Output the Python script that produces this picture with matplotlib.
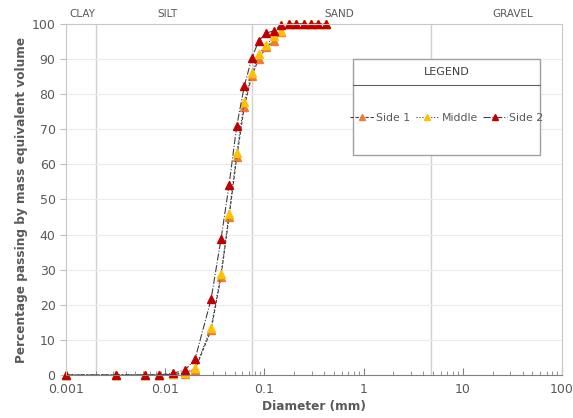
import matplotlib.pyplot as plt
from matplotlib.patches import Rectangle
from matplotlib.lines import Line2D
from matplotlib.ticker import FuncFormatter, LogLocator, NullFormatter

# particle size bins (mm)
diam = [0.001, 0.0032, 0.0062, 0.0087, 0.0120, 0.0158, 0.0200, 0.0290, 0.0365,
        0.0440, 0.0526, 0.0627, 0.0745, 0.0876, 0.1045, 0.125, 0.146, 0.177,
        0.209, 0.249, 0.293, 0.348, 0.416]

side1 = [0, 0, 0, 0, 0.2, 0.4, 1.5, 12.8, 28.0, 45.0, 62.0, 76.4, 85.2, 90.0,
         93.5, 95.2, 97.7, 100, 100, 100, 100, 100, 100]
middle = [0, 0, 0, 0, 0.3, 0.5, 1.9, 13.5, 28.7, 45.9, 63.3, 77.9, 86.0, 91.5,
          93.9, 96.6, 98.1, 100, 100, 100, 100, 100, 100]
side2 = [0, 0, 0, 0, 0.5, 1.4, 4.5, 21.6, 38.7, 54.1, 70.9, 82.3, 90.2, 95.2,
         97.4, 98.1, 99.8, 100, 100, 100, 100, 100, 100]

# class boundaries (mm)
bounds = [0.002, 0.075, 4.75]
classes = ['CLAY', 'SILT', 'SAND', 'GRAVEL']
class_x = [0.00108, 0.0105, 0.57, 32]

grey = '#595959'

fig = plt.figure(figsize=(5.73, 4.18), dpi=100)
ax = fig.add_axes([0.1152, 0.1029, 0.8656, 0.8397])

ax.plot(diam, side1, color='#404040', lw=0.8, ls=(0, (3, 1.5)), clip_on=False,
        marker='^', ms=5.5, mfc='#ED7D31', mec='#ED7D31', label='Side 1')
ax.plot(diam, middle, color='#404040', lw=0.8, ls=':', clip_on=False,
        marker='^', ms=5.5, mfc='#FFC000', mec='#FFC000', label='Middle')
ax.plot(diam, side2, color='#404040', lw=0.8, ls='-.', clip_on=False,
        marker='^', ms=5.5, mfc='#C00000', mec='#C00000', label='Side 2')

ax.set_xscale('log')
ax.set_xlim(0.001, 100)
ax.set_ylim(0, 100)
ax.set_yticks(range(0, 101, 10))
ax.yaxis.grid(True, color='#ececec', lw=0.8)
ax.set_axisbelow(True)

for b in bounds:
    ax.axvline(b, color='#d0d0d0', lw=1, zorder=0)

ax.xaxis.set_major_formatter(FuncFormatter(lambda v, _: f'{v:g}'))
ax.xaxis.set_minor_locator(LogLocator(base=10, subs=range(2, 10)))
ax.xaxis.set_minor_formatter(NullFormatter())
ax.tick_params(axis='x', which='major', direction='in', length=5, color='#808080',
               labelsize=9, labelcolor=grey, pad=6)
ax.tick_params(axis='x', which='minor', direction='in', length=3, color='#808080')
ax.tick_params(axis='y', length=4, color='#bfbfbf', labelsize=9, labelcolor=grey)

for side in ['left', 'right', 'top']:
    ax.spines[side].set_color('#c8c8c8')
ax.spines['bottom'].set_color('#808080')

ax.set_xlabel('Diameter (mm)', fontsize=8.7, fontweight='bold', color=grey, labelpad=3)
ax.set_ylabel('Percentage passing by mass equivalent volume', fontsize=8.7,
              fontweight='bold', color=grey, labelpad=3)

for name, xc in zip(classes, class_x):
    ax.text(xc, 101.5, name, fontsize=7.5, color=grey, va='bottom',
            ha='left' if name == 'CLAY' else 'center')

# legend box
ax.add_patch(Rectangle((0.579, 0.627), 0.377, 0.273, transform=ax.transAxes,
                       fc='white', ec='#a0a0a0', lw=1, zorder=5))
ax.add_line(Line2D([0.579, 0.956], [0.826, 0.826], transform=ax.transAxes,
                   color='#606060', lw=0.8, zorder=6))
ax.text(0.7675, 0.863, 'LEGEND', transform=ax.transAxes, ha='center', va='center',
        fontsize=8, color='#404040', zorder=6)
leg = ax.legend(loc='center', bbox_to_anchor=(0.7675, 0.732), ncol=3, frameon=False,
                fontsize=7.8, handlelength=2.2, handletextpad=0.2, columnspacing=0.5,
                markerscale=0.7, labelcolor=grey)
leg.set_zorder(7)

fig.savefig('out.png', dpi=100)
